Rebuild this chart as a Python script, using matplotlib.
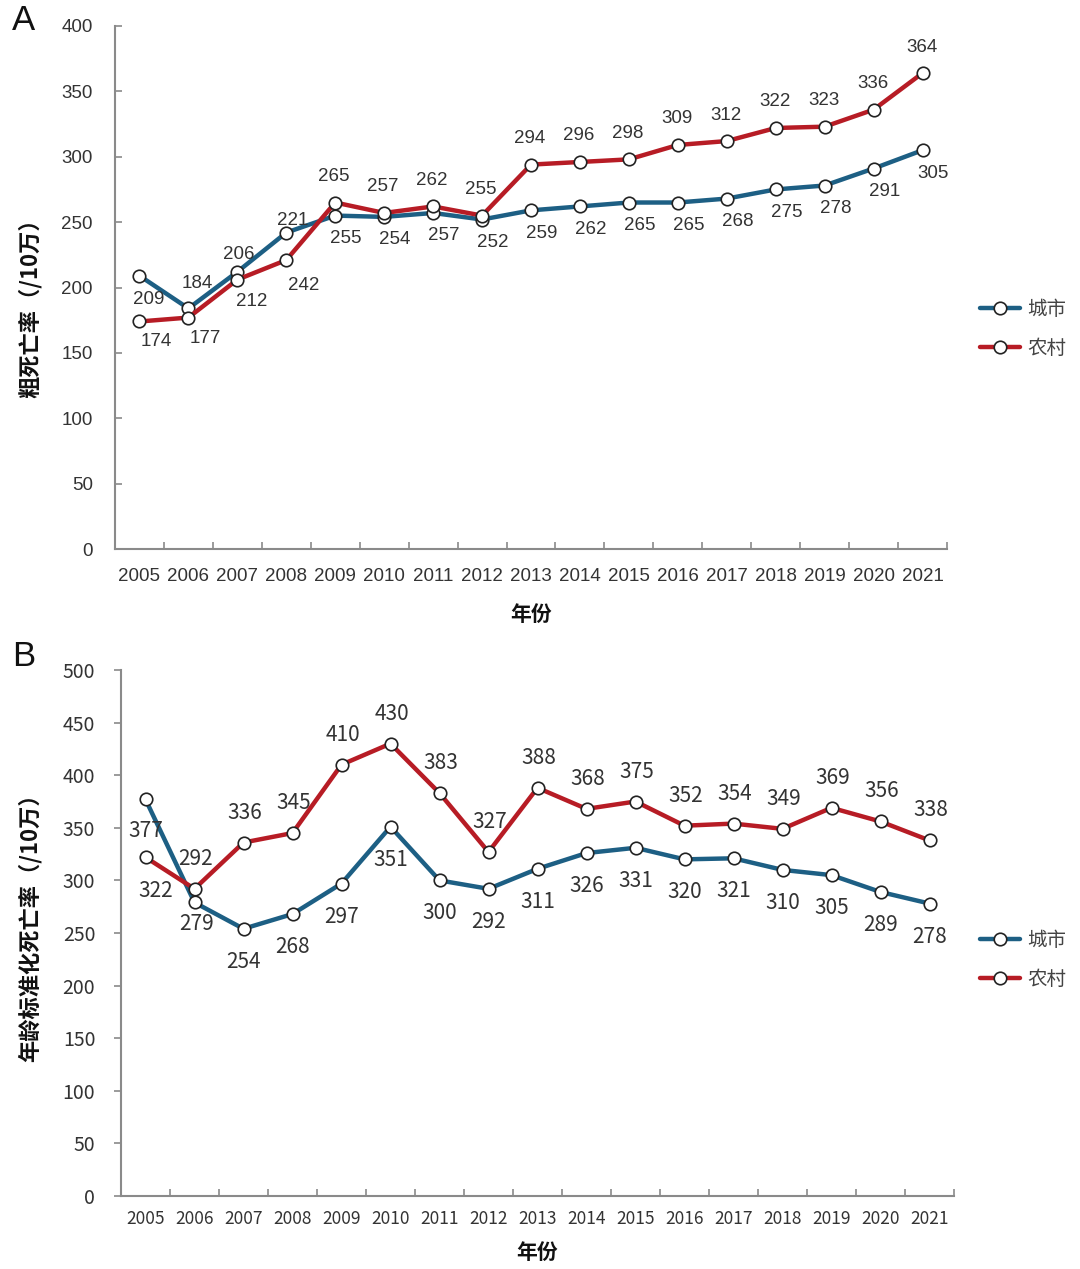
import matplotlib
matplotlib.use("Agg")
import matplotlib.pyplot as plt
import numpy as np

plt.rcParams['font.family'] = ['Liberation Sans', 'Noto Sans CJK SC', 'DejaVu Sans']

years = ['2005', '2006', '2007', '2008', '2009', '2010', '2011', '2012', '2013',
         '2014', '2015', '2016', '2017', '2018', '2019', '2020', '2021']

# Panel A: crude death rate (/10万)
crude_city = [209, 184, 212, 242, 255, 254, 257, 252, 259, 262, 265, 265, 268, 275, 278, 291, 305]
crude_rural = [174, 177, 206, 221, 265, 257, 262, 255, 294, 296, 298, 309, 312, 322, 323, 336, 364]

# Panel B: age-standardised death rate (/10万)
std_city = [377, 279, 254, 268, 297, 351, 300, 292, 311, 326, 331, 320, 321, 310, 305, 289, 278]
std_rural = [322, 292, 336, 345, 410, 430, 383, 327, 388, 368, 375, 352, 354, 349, 369, 356, 338]

series_names = ['城市', '农村']
ylabels = ['粗死亡率（/10万）', '年龄标准化死亡率（/10万）']

BLUE = '#1d5f84'
RED = '#b71c25'
TXT = '#333333'
SPINE = '#8a8a8a'
CJK = ['Noto Sans CJK SC']

fig = plt.figure(figsize=(10.8, 12.69), dpi=100)
W, H = 1080, 1269

def fx(px):
    return px / W

def fy(py):
    return 1 - py / H

axA = fig.add_axes([fx(115), fy(549), fx(947 - 115), (549 - 26) / H])
axB = fig.add_axes([fx(121), fy(1196), fx(954 - 121), (1196 - 670) / H])

x = np.arange(len(years))

def style_axis(ax, ymax, ydir, ypad, xpad, numfont, xsize, ysize):
    for s in ['top', 'right']:
        ax.spines[s].set_visible(False)
    for s in ['left', 'bottom']:
        ax.spines[s].set_color(SPINE)
        ax.spines[s].set_linewidth(1.5)
    ax.set_xlim(-0.5, len(years) - 0.5)
    ax.set_ylim(0, ymax)
    ax.set_yticks(np.arange(0, ymax + 1, 50))
    ax.set_xticks(x)
    ax.set_xticklabels(years, family=numfont)
    ax.set_xticks(np.arange(-0.5, len(years), 1.0), minor=True)
    ax.tick_params(axis='x', which='major', length=0, pad=xpad, labelsize=xsize, labelcolor=TXT)
    ax.tick_params(axis='x', which='minor', length=5, direction='in', color=SPINE, width=1.2)
    ax.tick_params(axis='y', length=5, direction=ydir, pad=ypad, labelsize=ysize, labelcolor=TXT,
                   color=SPINE, width=1.2)
    for lab in ax.get_yticklabels():
        lab.set_family(numfont)

def draw_lines(ax, city, rural):
    kw = dict(lw=3.2, marker='o', markersize=9, markerfacecolor='white',
              markeredgecolor='#222222', markeredgewidth=1.2, solid_capstyle='round')
    l1, = ax.plot(x, city, color=BLUE, label=series_names[0], zorder=3, **kw)
    l2, = ax.plot(x, rural, color=RED, label=series_names[1], zorder=4, **kw)
    return l1, l2

def lab(ax, text, xy, off, size, fam):
    ax.annotate(text, xy, xytext=off, textcoords='offset pixels', ha='center', va='center',
                fontsize=size, color=TXT, family=fam)

# ---- Panel A ----
NA = ['Liberation Sans']
style_axis(axA, 400, 'in', 16, 14, NA, 13.5, 13.5)
draw_lines(axA, crude_city, crude_rural)
for i in range(len(years)):
    c, r = crude_city[i], crude_rural[i]
    if i == 0:
        lab(axA, str(c), (i, c), (9, -24), 13.5, NA)
        lab(axA, str(r), (i, r), (17, -20), 13.5, NA)
    elif i == 1:
        lab(axA, str(c), (i, c), (9, 25), 13.5, NA)
        lab(axA, str(r), (i, r), (17, -21), 13.5, NA)
    elif i == 2:
        lab(axA, str(r), (i, c), (1, 17), 13.5, NA)
        lab(axA, str(c), (i, r), (14, -22), 13.5, NA)
    elif i == 3:
        lab(axA, str(r), (i, c), (6, 12), 13.5, NA)
        lab(axA, str(c), (i, r), (17, -25), 13.5, NA)
    else:
        lab(axA, str(r), (i, r), (-1, 26), 13.5, NA)
        lab(axA, str(c), (i, c), (11, -23), 13.5, NA)
axA.set_xlabel('年份', fontsize=15, fontweight='bold', family=CJK,
               labelpad=13, color='#111111')
axA.set_ylabel(ylabels[0], fontsize=16, fontweight='bold', family=CJK, color='#111111')
axA.yaxis.set_label_coords((42 - 115) / (947 - 115), (549 - 303) / (549 - 26))
axA.legend(loc='center left', bbox_to_anchor=(fx(962), fy(329)), bbox_transform=fig.transFigure,
           frameon=False, handlelength=2.1, handletextpad=0.35, labelspacing=0.95,
           prop={'family': CJK, 'size': 14}, labelcolor='#444444')

# ---- Panel B ----
style_axis(axB, 500, 'out', 13.5, 10, CJK, 12.5, 14)
draw_lines(axB, std_city, std_rural)
for i in range(len(years)):
    c, r = std_city[i], std_rural[i]
    if i == 0:
        lab(axB, str(c), (i, c), (0, -32), 15, CJK)
        lab(axB, str(r), (i, r), (10, -34), 15, CJK)
    else:
        lab(axB, str(r), (i, r), (1, 30), 15, CJK)
        lab(axB, str(c), (i, c), (0, -33) if i > 1 else (2, -22), 15, CJK)
axB.set_xlabel('年份', fontsize=15, fontweight='bold', family=CJK,
               labelpad=10, color='#111111')
axB.set_ylabel(ylabels[1], fontsize=16, fontweight='bold', family=CJK, color='#111111')
axB.yaxis.set_label_coords((42 - 121) / (954 - 121), (1196 - 922) / (1196 - 670))
axB.legend(loc='center left', bbox_to_anchor=(fx(962), fy(960)), bbox_transform=fig.transFigure,
           frameon=False, handlelength=2.1, handletextpad=0.35, labelspacing=0.95,
           prop={'family': CJK, 'size': 14}, labelcolor='#444444')

fig.text(fx(23), fy(21), 'A', fontsize=25, ha='center', va='center', color='#111111', family=NA)
fig.text(fx(24), fy(656), 'B', fontsize=25, ha='center', va='center', color='#111111', family=NA)

fig.savefig('out.png', dpi=100, facecolor='white')
